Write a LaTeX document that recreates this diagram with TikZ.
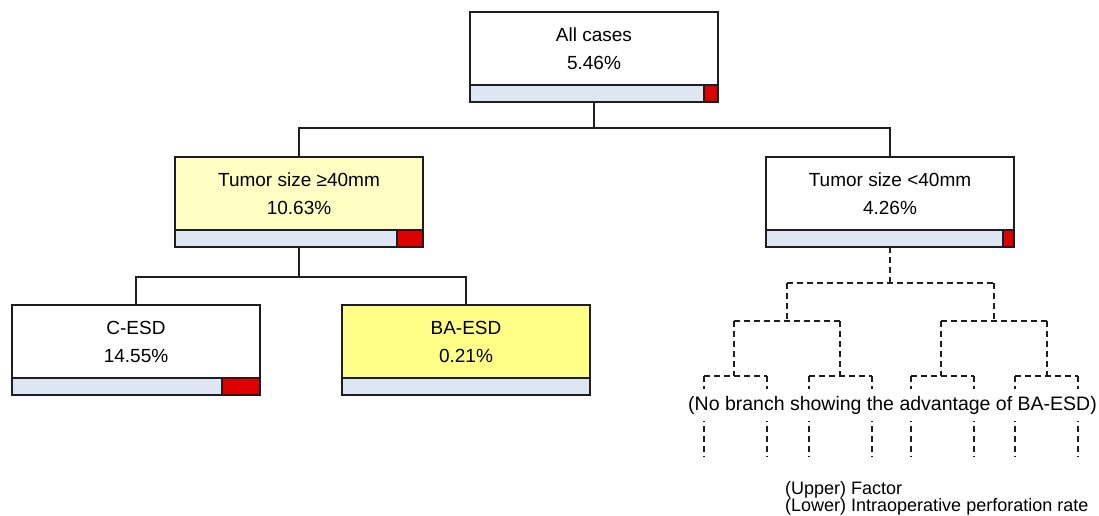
\documentclass[tikz,border=0pt]{standalone}
\usepackage{fontspec}
\setmainfont{Liberation Sans}
\usetikzlibrary{calc}
\definecolor{boxline}{HTML}{1E1E1E}
\definecolor{barblue}{HTML}{DEE6F4}
\definecolor{barred}{HTML}{DD0000}
\definecolor{paleyellow}{HTML}{FFFFC4}
\definecolor{brightyellow}{HTML}{FFFF88}
\newcommand\dtbar[2]{%
  \filldraw[fill=barblue, draw=boxline, line width=1.1pt] (#1.south west) rectangle ([yshift=17pt]#1.south east);
  \filldraw[fill=barred, draw=boxline, line width=1.1pt] ([xshift=-#2pt]#1.south east) rectangle ([yshift=17pt]#1.south east);
  \draw[boxline, line width=1.6pt] (#1.south west) rectangle (#1.north east);}
\begin{document}
\begin{tikzpicture}[x=1pt,y=-1pt,
  treebox/.style={rectangle, minimum width=248pt, minimum height=90pt, inner sep=0pt, outer sep=0pt},
  lbl/.style={align=center, font=\fontsize{19}{28}\selectfont, inner sep=0pt},
  conn/.style={line width=1.4pt, draw=boxline},
  dconn/.style={line width=1.4pt, draw=boxline, dash pattern=on 6pt off 4pt},
  legtxt/.style={anchor=base west, font=\fontsize{18}{18}\selectfont, inner sep=0pt}]
\useasboundingbox[fill=white] (0,0) rectangle (1099,515);

% boxes
\node[treebox, fill=white] (root) at (594,57) {};
\node[treebox, fill=paleyellow] (l1) at (299,202) {};
\node[treebox, fill=white] (r1) at (890,202) {};
\node[treebox, fill=white] (cesd) at (136,350) {};
\node[treebox, fill=brightyellow] (baesd) at (466,350) {};

\dtbar{root}{14}
\dtbar{l1}{26}
\dtbar{r1}{11}
\dtbar{cesd}{38}
\dtbar{baesd}{0}

\node[lbl] (root-t) at ([yshift=8.5pt]root.center) {All cases\\5.46\%};
\node[lbl] (l1-t) at ([yshift=8.5pt]l1.center) {Tumor size ≥40mm\\10.63\%};
\node[lbl] (r1-t) at ([yshift=8.5pt]r1.center) {Tumor size <40mm\\4.26\%};
\node[lbl] (cesd-t) at ([yshift=8.5pt]cesd.center) {C-ESD\\14.55\%};
\node[lbl] (baesd-t) at ([yshift=8.5pt]baesd.center) {BA-ESD\\0.21\%};

% solid connectors
\coordinate (j0) at (594,128);
\coordinate (j1) at (299,277);
\draw[conn] (root.south) -- (j0);
\draw[conn] (j0) -| (l1.north);
\draw[conn] (j0) -| (r1.north);
\draw[conn] (l1.south) -- (j1);
\draw[conn] (j1) -| (cesd.north);
\draw[conn] (j1) -| (baesd.north);

% dashed subtree
\coordinate (d0) at (890,283);
\coordinate (a1) at (787,283);
\coordinate (a2) at (994,283);
\coordinate (b1) at (787,321);
\coordinate (b2) at (994,321);
\coordinate (b1L) at (734,321);
\coordinate (b1R) at (840,321);
\coordinate (b2L) at (941,321);
\coordinate (b2R) at (1047,321);
\coordinate (c1) at (734,376);
\coordinate (c2) at (840,376);
\coordinate (c3) at (941,376);
\coordinate (c4) at (1047,376);
\foreach \i/\x in {1/704,2/767,3/809,4/872,5/911,6/974,7/1015,8/1078}{
  \coordinate (e\i) at (\x,376);
  \coordinate (f\i) at (\x,457);
}
\draw[dconn] (r1.south) -- (d0);
\draw[dconn] (a1) -- (a2);
\draw[dconn] (a1) -- (b1);
\draw[dconn] (a2) -- (b2);
\draw[dconn] (b1L) -- (b1R);
\draw[dconn] (b2L) -- (b2R);
\draw[dconn] (b1L) -- (c1);
\draw[dconn] (b1R) -- (c2);
\draw[dconn] (b2L) -- (c3);
\draw[dconn] (b2R) -- (c4);
\draw[dconn] (e1) -- (e2);
\draw[dconn] (e3) -- (e4);
\draw[dconn] (e5) -- (e6);
\draw[dconn] (e7) -- (e8);
\foreach \i in {1,...,8}{\draw[dconn] (e\i) -- (f\i);}

\node[font=\fontsize{19.5}{24}\selectfont, fill=white, inner xsep=0pt, inner ysep=7pt] (nb) at (892.5,405) {(No branch showing the advantage of BA-ESD)};

% legend
\node[legtxt] (leg1) at (785,494) {(Upper) Factor};
\node[legtxt] (leg2) at (785,511) {(Lower) Intraoperative perforation rate};
\end{tikzpicture}
\end{document}
